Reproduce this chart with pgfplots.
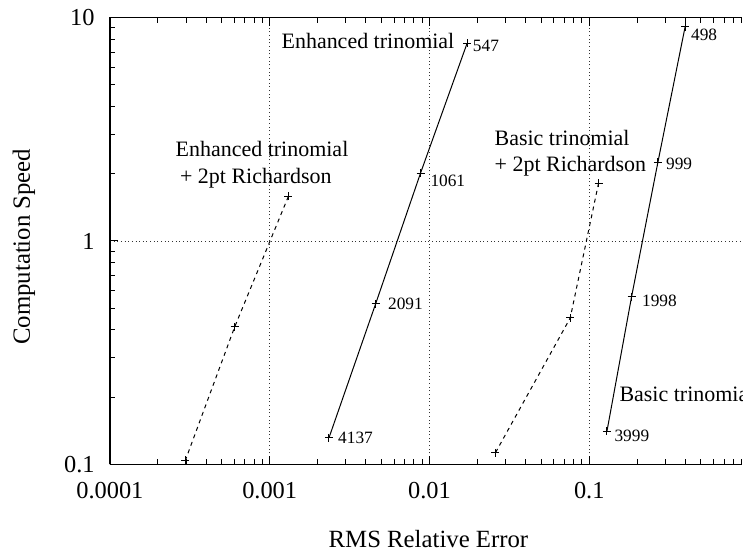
\documentclass[border=0pt]{standalone}
\usepackage{fontspec}
\setmainfont{Liberation Serif}
\usepackage{pgfplots}
\pgfplotsset{compat=1.18}
\begin{document}
\begin{tikzpicture}
\begin{axis}[
  at={(0pt,0pt)}, anchor=south west,
  scale only axis, width=474.75pt, height=335.625pt,
  xmode=log, ymode=log,
  xmin=1e-4, xmax=0.9044, ymin=0.1, ymax=10,
  axis x line*=box, axis y line*=left,
  xtick={1e-4,1e-3,1e-2,1e-1}, xticklabels={0.0001,0.001,0.01,0.1},
  minor xtick={2e-4,3e-4,4e-4,5e-4,6e-4,7e-4,8e-4,9e-4,
               2e-3,3e-3,4e-3,5e-3,6e-3,7e-3,8e-3,9e-3,
               2e-2,3e-2,4e-2,5e-2,6e-2,7e-2,8e-2,9e-2,
               0.2,0.3,0.4,0.5,0.6,0.7,0.8,0.9},
  ytick={0.1,1,10}, yticklabels={0.1,1,10},
  minor ytick={0.2,0.3,0.4,0.5,0.6,0.7,0.8,0.9,2,3,4,5,6,7,8,9},
  tick align=inside,
  major tick length=6.25pt, minor tick length=4pt,
  every tick/.style={black, line width=0.75pt},
  axis line style={line width=1.3pt},
  grid=major,
  major grid style={black!80, line width=0.6pt, dash pattern=on 0.75pt off 2pt},
  minor grid style={draw=none},
  xlabel={RMS Relative Error}, ylabel={Computation Speed},
  label style={font=\fontsize{18.6}{22}\selectfont},
  xlabel style={at={(axis description cs:0.5039,-0.1848)}, anchor=base},
  ylabel style={at={(axis description cs:-0.1264,0.487)}, anchor=base},
  ticklabel style={font=\fontsize{18.3}{22}\selectfont, inner sep=0pt},
  xticklabel style={anchor=base, yshift=-25.5pt},
  yticklabel style={anchor=east, xshift=-11.25pt},
]
% Enhanced trinomial
\addplot[black, line width=0.75pt, mark=+, mark size=3pt] coordinates {
  (0.0172,7.67) (0.00879,2.012) (0.0046,0.5226) (0.00235,0.1316)};
% Basic trinomial
\addplot[black, line width=0.75pt, mark=+, mark size=3pt] coordinates {
  (0.398,9.10) (0.2688,2.253) (0.1838,0.5616) (0.129,0.1409)};
% Enhanced trinomial + 2pt Richardson
\addplot[black, line width=0.75pt, dash pattern=on 3pt off 3pt, mark=+, mark size=3pt, mark options={solid}] coordinates {
  (0.001309,1.582) (0.000604,0.4125) (0.000297,0.1045)};
% Basic trinomial + 2pt Richardson
\addplot[black, line width=0.75pt, dash pattern=on 3pt off 3pt, mark=+, mark size=3pt, mark options={solid}] coordinates {
  (0.1143,1.816) (0.076,0.4525) (0.02585,0.1128)};

% series labels
\begin{scope}[every node/.style={inner sep=0pt, anchor=base west, font=\fontsize{16.5}{20}\selectfont}]
\node at (axis cs:0.001183,7.23) {Enhanced trinomial};
\node at (axis cs:0.000257,2.379) {Enhanced trinomial};
\node at (axis cs:0.000274,1.816) {+ 2pt Richardson};
\node at (axis cs:0.02548,2.673) {Basic trinomial};
\node at (axis cs:0.02548,2.04) {+ 2pt Richardson};
\node[overlay] at (axis cs:0.154,0.1919) {Basic trinomial};
\end{scope}
% point labels
\begin{scope}[every node/.style={inner sep=0pt, anchor=base west, font=\fontsize{13}{16}\selectfont}]
\node[xshift=4.2pt, yshift=-6.3pt] at (axis cs:0.0172,7.67) {547};
\node[xshift=7.3pt, yshift=-10.05pt] at (axis cs:0.00879,2.012) {1061};
\node[xshift=9.2pt, yshift=-4.3pt] at (axis cs:0.0046,0.5226) {2091};
\node[xshift=6.75pt, yshift=-4.3pt] at (axis cs:0.00235,0.1316) {4137};
\node[xshift=4.3pt, yshift=-10.5pt] at (axis cs:0.398,9.10) {498};
\node[xshift=6pt, yshift=-5.25pt] at (axis cs:0.2688,2.253) {999};
\node[xshift=7.8pt, yshift=-7.05pt] at (axis cs:0.1838,0.5616) {1998};
\node[xshift=5.5pt, yshift=-7.5pt] at (axis cs:0.129,0.1409) {3999};
\end{scope}
\end{axis}
\path (-82.5pt,-65.25pt) rectangle (474.75pt,348.75pt);
\end{tikzpicture}
\end{document}
